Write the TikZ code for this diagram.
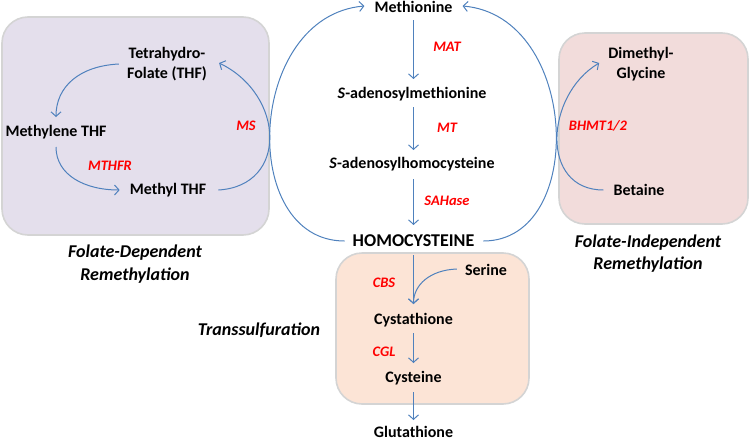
\documentclass[tikz,border=0pt]{standalone}
\usepackage{fontspec}
\setmainfont{Carlito}
\usetikzlibrary{arrows.meta}
\definecolor{arrowblue}{HTML}{4F81BD}
\definecolor{lavbox}{HTML}{E4DFEC}
\definecolor{pinkbox}{HTML}{F2DCDB}
\definecolor{peachbox}{HTML}{FCE4D6}
\definecolor{panelline}{HTML}{D4D4D4}
\definecolor{enzred}{HTML}{FF0000}
\begin{document}
\begin{tikzpicture}[x=1pt,y=-1pt,
  txt/.style={font=\fontsize{16}{20}\selectfont\bfseries, align=center, inner sep=0pt},
  big/.style={font=\fontsize{18}{22}\selectfont\bfseries, inner sep=0pt},
  enz/.style={font=\fontsize{14.5}{17}\selectfont\bfseries\itshape, text=enzred, inner sep=0pt},
  grp/.style={font=\fontsize{18}{22.5}\selectfont\bfseries\itshape, align=center, inner sep=0pt},
  conn/.style={draw=arrowblue, line width=1pt, -{Straight Barb[length=4.5pt,width=10pt]}},
  panel/.style={fill=#1, draw=panelline, line width=1.6pt, rounded corners=26pt}]
\useasboundingbox (0,0) rectangle (750,442);

% panels
\path[panel=lavbox] (2,17) rectangle (269,235);
\path[panel=pinkbox] (559,33) rectangle (748,224);
\path[panel=peachbox] (336,253) rectangle (529,404);

% central column
\node[txt] (met) at (413.5,7) {Methionine};
\node[txt] (sam) at (412,94) {\textit{S}-adenosylmethionine};
\node[txt] (sah) at (412,164) {\textit{S}-adenosylhomocysteine};
\node[big] (hcy) at (413.5,241) {HOMOCYSTEINE};
\node[enz] (mat) at (447,47) {MAT};
\node[enz] (mt) at (447,128) {MT};
\node[enz] (sahase) at (447,201) {SAHase};

% folate-dependent
\node[txt] (thf) at (167,64) {Tetrahydro-\\Folate (THF)};
\node[txt] (mlthf) at (56,132) {Methylene THF};
\node[txt] (mthf) at (168,190) {Methyl THF};
\node[enz] (mthfr) at (110,166) {MTHFR};
\node[enz] (ms) at (246,126) {MS};
\node[grp] (fdr) at (135,264) {Folate-Dependent\\Remethylation};

% folate-independent
\node[txt] (dmg) at (641,64) {Dimethyl-\\Glycine};
\node[txt] (bet) at (639,190) {Betaine};
\node[enz] (bhmt) at (598,126) {BHMT1/2};
\node[grp] (fir) at (648,253.5) {Folate-Independent\\Remethylation};

% transsulfuration
\node[grp] (trs) at (259,330) {Transsulfuration};
\node[txt] (ser) at (486,270) {Serine};
\node[txt] (cyst) at (413.5,320) {Cystathione};
\node[txt] (cys) at (413.5,378) {Cysteine};
\node[txt] (glu) at (413.5,432) {Glutathione};
\node[enz] (cbs) at (384,283) {CBS};
\node[enz] (cgl) at (384,352) {CGL};

% straight arrows
\draw[conn] ([shift={(0,13)}]met.center) -- ([shift={(0,-15)}]met.center |- sam.center);
\draw[conn] ([shift={(0,13)}]met.center |- sam.center) -- ([shift={(0,-14)}]met.center |- sah.center);
\draw[conn] ([shift={(0,15)}]met.center |- sah.center) -- ([shift={(0,-16)}]hcy.center);
\draw[conn] ([shift={(0,14)}]hcy.center) -- ([shift={(0,-16)}]cyst.center);
\draw[conn] ([shift={(0,13)}]cyst.center) -- ([shift={(0,-15)}]cys.center);
\draw[conn] ([shift={(0,14)}]cys.center) -- ([shift={(0,-12)}]glu.center);

% big remethylation loops
\draw[conn] ([shift={(-8,0)}]hcy.west) .. controls +(-107,0) and +(-118,10) .. ([shift={(-10,-1)}]met.west);
\draw[conn] ([shift={(9,0)}]hcy.east) .. controls +(104,0) and +(117,10) .. ([shift={(10,-1)}]met.east);

% folate cycle
\draw[conn] ([shift={(-8,0)}]thf.west) .. controls +(-40,2) and +(0,-30) .. ([shift={(0,-15)}]mlthf.center);
\draw[conn] ([shift={(0,15)}]mlthf.center) .. controls +(0,28) and +(-35,0) .. ([shift={(-10,0)}]mthf.west);
\draw[conn] ([shift={(12,0)}]mthf.east) .. controls +(70,-4) and +(66,32) .. ([shift={(12,-1)}]thf.east);

% betaine
\draw[conn] ([shift={(-10,0)}]bet.west) .. controls +(-64,0) and +(-54,32) .. ([shift={(-9,-1)}]dmg.west);

% serine
\draw[conn] ([shift={(-8,-1)}]ser.west) .. controls +(-27,1) and +(0,-19) .. ([shift={(0,-16)}]cyst.center);
\end{tikzpicture}
\end{document}
